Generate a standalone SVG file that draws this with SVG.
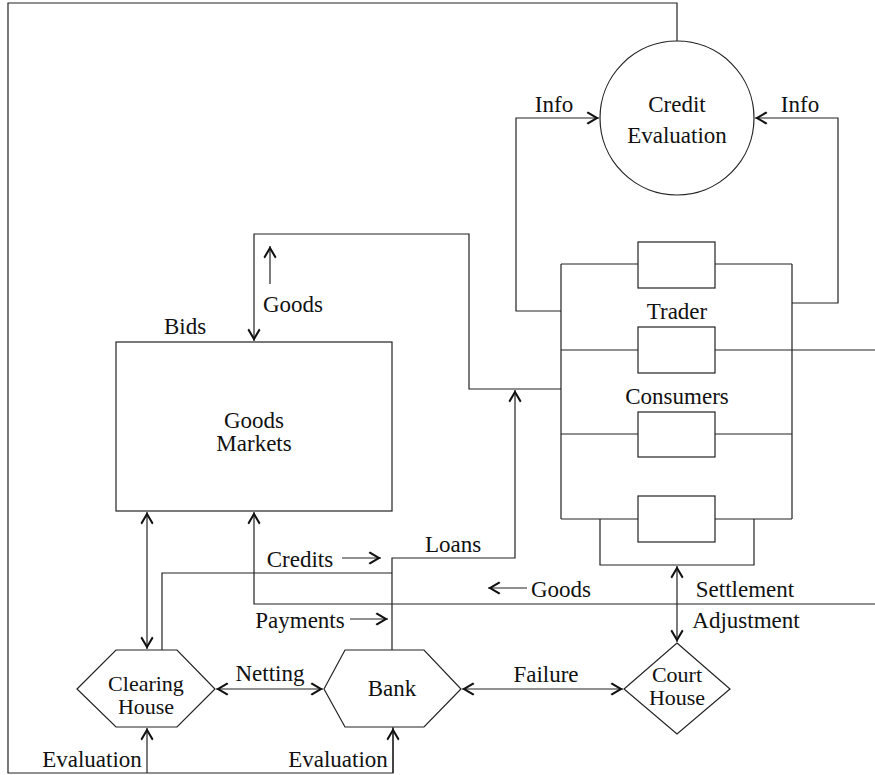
<svg xmlns="http://www.w3.org/2000/svg" width="875" height="775" viewBox="0 0 875 775">
<style>
  .ln { fill: none; stroke: #222; stroke-width: 1.2; }
  .nd { fill: #fff; stroke: #222; stroke-width: 1.2; }
  text { font-family: "Times New Roman", "Liberation Serif", Tinos, "Noto Serif", "DejaVu Serif", serif; font-size: 23px; fill: #111; text-anchor: middle; }
  .s { font-size: 22px; }
  .a { marker-end: url(#ah); }
  .aa { marker-start: url(#ah); marker-end: url(#ah); }
</style>
<defs>
  <marker id="ah" viewBox="-13 -7 14 14" refX="0" refY="0" markerWidth="14" markerHeight="14" markerUnits="userSpaceOnUse" orient="auto-start-reverse">
    <path d="M0,0 L-11,-6.5 L-12.5,-5 L-4,0 L-12.5,5 L-11,6.5 Z" fill="#111"/>
  </marker>
</defs>
<rect x="0" y="0" width="875" height="775" fill="#fff"/>

<g id="connectors">
  <path class="ln" d="M677,42 V3 H8 V773 H393 V727"/>
  <path class="ln a" d="M393,773 V728"/>
  <path class="ln a" d="M147,773 V728"/>
  <path class="ln a" d="M561,311 H516 V118 H599"/>
  <path class="ln a" d="M792,303 H838 V118 H755"/>
  <path class="ln a" d="M561,389 H469 V234 H254 V341"/>
  <path class="ln a" d="M270,284 V246"/>
  <path class="ln a" d="M392,650 V558 H515 V390"/>
  <path class="ln" d="M162,650 V573 H392"/>
  <path class="ln a" d="M875,604 H254 V512"/>
  <path class="ln" d="M792,350 H875"/>
  <path class="ln aa" d="M147,512 V649"/>
  <path class="ln a" d="M342,558 H381"/>
  <path class="ln a" d="M350,619 H388"/>
  <path class="ln a" d="M527,588 H488"/>
  <path class="ln aa" d="M216,689 H323"/>
  <path class="ln aa" d="M462,689 H623"/>
  <path class="ln aa" d="M677,566 V642"/>
</g>

<g id="credit-evaluation">
  <circle class="nd" cx="677" cy="118" r="77"/>
  <text x="677" y="112">Credit</text>
  <text x="677" y="143">Evaluation</text>
</g>

<g id="goods-markets">
  <rect class="nd" x="116" y="342" width="276" height="169"/>
  <text x="254" y="428">Goods</text>
  <text x="254" y="451">Markets</text>
</g>

<g id="trader-consumers">
  <path class="ln" d="M561,264 V519 M792,264 V519"/>
  <path class="ln" d="M561,264 H638 M715,264 H792"/>
  <path class="ln" d="M561,350 H638 M715,350 H792"/>
  <path class="ln" d="M561,434 H638 M715,434 H792"/>
  <path class="ln" d="M561,519 H638 M715,519 H792"/>
  <path class="ln" d="M600,519 V565 H754 V519"/>
  <rect class="nd" x="638" y="242" width="77" height="46"/>
  <rect class="nd" x="638" y="327" width="77" height="46"/>
  <rect class="nd" x="638" y="412" width="77" height="45"/>
  <rect class="nd" x="638" y="496" width="77" height="46"/>
  <text x="677" y="319">Trader</text>
  <text x="677" y="404">Consumers</text>
</g>

<g id="clearing-house">
  <polygon class="nd" points="77,689 116,650 177,650 215,689 177,727 116,727"/>
  <text class="s" x="146" y="691">Clearing</text>
  <text class="s" x="146" y="714">House</text>
</g>

<g id="bank">
  <polygon class="nd" points="324,689 345,650 424,650 461,689 424,727 345,727"/>
  <text x="392" y="696">Bank</text>
</g>

<g id="court-house">
  <polygon class="nd" points="677,643 730,689 677,734 624,689"/>
  <text class="s" x="677" y="682">Court</text>
  <text class="s" x="677" y="705">House</text>
</g>

<g id="labels">
  <text x="554" y="112">Info</text>
  <text x="800" y="112">Info</text>
  <text x="293" y="312">Goods</text>
  <text x="185" y="334">Bids</text>
  <text x="300" y="567">Credits</text>
  <text x="300" y="628">Payments</text>
  <text x="453" y="552">Loans</text>
  <text x="561" y="597">Goods</text>
  <text x="745" y="597">Settlement</text>
  <text x="746" y="628">Adjustment</text>
  <text x="546" y="682">Failure</text>
  <text x="270" y="681">Netting</text>
  <text x="92" y="767">Evaluation</text>
  <text x="338" y="767">Evaluation</text>
</g>
</svg>
